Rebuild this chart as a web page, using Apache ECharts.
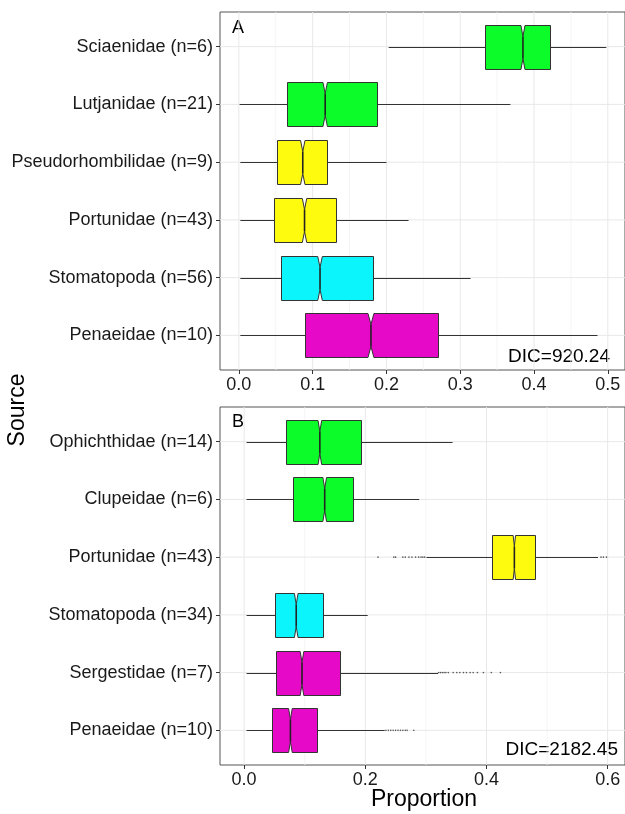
<!DOCTYPE html>
<html>
<head>
<meta charset="utf-8">
<script src="https://cdn.jsdelivr.net/npm/echarts@6/dist/echarts.min.js"></script>
<style>html,body{margin:0;padding:0;background:#fff;}#chart{width:625px;height:814px;}</style>
</head>
<body>
<div id="chart"></div>
<script>
// ---------- Panel A data (top to bottom) ----------
const catsA = ['Sciaenidae (n=6)','Lutjanidae (n=21)','Pseudorhombilidae (n=9)','Portunidae (n=43)','Stomatopoda (n=56)','Penaeidae (n=10)'];
const lowA   = [0.203, 0.001, 0.002, 0.002, 0.002, 0.002];
const q1A    = [0.333, 0.065, 0.052, 0.048, 0.0565, 0.090];
const medA   = [0.385, 0.117, 0.0866, 0.089, 0.110, 0.179];
const q3A    = [0.422, 0.187, 0.119, 0.132, 0.182, 0.270];
const highA  = [0.498, 0.368, 0.200, 0.230, 0.314, 0.486];
const notchA = [0.0027, 0.003, 0.003, 0.003, 0.0031, 0.004];
const colorA = ['green','green','yellow','yellow','cyan','magenta'];
const majorTicksA = [0, 0.1, 0.2, 0.3, 0.4, 0.5];
const minorTicksA = [0.05, 0.15, 0.25, 0.35, 0.45];

// ---------- Panel B data (top to bottom) ----------
const catsB = ['Ophichthidae (n=14)','Clupeidae (n=6)','Portunidae (n=43)','Stomatopoda (n=34)','Sergestidae (n=7)','Penaeidae (n=10)'];
const lowB   = [0.004, 0.004, 0.301, 0.004, 0.004, 0.004];
const q1B    = [0.069, 0.080, 0.409, 0.051, 0.052, 0.046];
const medB   = [0.125, 0.133, 0.446, 0.086, 0.0955, 0.0764];
const q3B    = [0.193, 0.179, 0.480, 0.130, 0.159, 0.120];
const highB  = [0.344, 0.289, 0.584, 0.204, 0.320, 0.232];
const notchB = [0.003, 0.003, 0.002, 0.003, 0.003, 0.003];
const colorB = ['green','green','yellow','cyan','magenta','magenta'];
const outPortunidaeB = [0.221, 0.247, 0.250, 0.262, 0.266, 0.272, 0.277, 0.283, 0.288, 0.292, 0.295, 0.298, 0.589, 0.593, 0.598];
const outSergestidaeB = [0.321, 0.324, 0.327, 0.330, 0.333, 0.337, 0.345, 0.351, 0.356, 0.362, 0.367, 0.373, 0.378, 0.385, 0.395, 0.408, 0.423];
const outPenaeidaeB = [0.234, 0.238, 0.242, 0.246, 0.250, 0.254, 0.258, 0.262, 0.266, 0.269, 0.280];
const majorTicksB = [0, 0.2, 0.4, 0.6];
const minorTicksB = [0.1, 0.3, 0.5];

const rowTicks = [1, 2, 3, 4, 5, 6];
const dicA = 'DIC=920.24';
const dicB = 'DIC=2182.45';

// ---------- styling ----------
const palette = { green: '#0cfc2a', yellow: '#fffb0f', cyan: '#0af5fc', magenta: '#e60ac8' };
const FONT = '"Liberation Sans", Arial, sans-serif';
const EDGE = '#333333';
const BOXW = 0.75;

// data row: [low, row, q1, median, q3, high, notch half-width]
function boxData(low, q1, med, q3, high, notch) {
  return low.map((v, i) => [v, i + 1, q1[i], med[i], q3[i], high[i], notch[i]]);
}
const snap = v => Math.round(v) + 0.5;

function makeBoxRenderer(colors) {
  return function (params, api) {
    const row = api.value(1);
    const lo = api.coord([api.value(0), row]);
    const x1 = snap(api.coord([api.value(2), row])[0]);
    const xm = api.coord([api.value(3), row])[0];
    const x3 = snap(api.coord([api.value(4), row])[0]);
    const xh = api.coord([api.value(5), row])[0];
    const nh = api.value(6);
    const xnl = api.coord([api.value(3) - nh, row])[0];
    const xnu = api.coord([api.value(3) + nh, row])[0];
    const y = snap(lo[1]);
    const h = Math.round(Math.abs(api.size([0, 1])[1]) * BOXW / 2);
    const fill = palette[colors[params.dataIndex]];
    return {
      type: 'group',
      children: [
        { type: 'polyline', shape: { points: [[lo[0], y], [xh, y]] }, style: { stroke: EDGE, lineWidth: 1, fill: null }, z2: 1 },
        { type: 'polygon', shape: { points: [
            [x1, y - h], [xnl, y - h], [xm, y - h / 2], [xnu, y - h], [x3, y - h],
            [x3, y + h], [xnu, y + h], [xm, y + h / 2], [xnl, y + h], [x1, y + h]
          ] }, style: { fill: fill, stroke: EDGE, lineWidth: 1 }, z2: 2 },
        { type: 'polyline', shape: { points: [[xm, y - h / 2], [xm, y + h / 2]] }, style: { stroke: '#222', lineWidth: 1.6, fill: null }, z2: 3 }
      ]
    };
  };
}

function vLineRenderer(color, width) {
  return function (params, api) {
    const x = api.coord([api.value(0), 1])[0];
    const cs = params.coordSys;
    return { type: 'line', silent: true, shape: { x1: x, y1: cs.y, x2: x, y2: cs.y + cs.height }, style: { stroke: color, lineWidth: width } };
  };
}
function hLineRenderer(color, width) {
  return function (params, api) {
    const y = api.coord([0, api.value(1)])[1];
    const cs = params.coordSys;
    return { type: 'line', silent: true, shape: { x1: cs.x, y1: y, x2: cs.x + cs.width, y2: y }, style: { stroke: color, lineWidth: width } };
  };
}

function xAxisCfg(gridIndex, min, max, ticks) {
  return {
    type: 'value', gridIndex: gridIndex, min: min, max: max,
    axisLine: { show: false, onZero: false },
    splitLine: { show: false },
    axisTick: { show: true, customValues: ticks, length: 4, lineStyle: { color: '#333', width: 1 } },
    axisLabel: { customValues: ticks, margin: 6, fontSize: 18, fontFamily: FONT, color: '#1a1a1a',
      formatter: v => Number(v).toFixed(1) }
  };
}
function yAxisCfg(gridIndex, cats) {
  return {
    type: 'value', gridIndex: gridIndex, min: 0.4, max: 6.6, inverse: true,
    axisLine: { show: false, onZero: false },
    splitLine: { show: false },
    axisTick: { show: true, customValues: rowTicks, length: 4, lineStyle: { color: '#333', width: 1 } },
    axisLabel: { customValues: rowTicks, margin: 7, fontSize: 18, fontFamily: FONT, color: '#1a1a1a',
      formatter: v => cats[Math.round(v) - 1] }
  };
}

function outlierData(vals, row) { return vals.map(v => [v, row]); }

const chart = echarts.init(document.getElementById('chart'), null, { renderer: 'canvas' });
chart.setOption({
  backgroundColor: '#ffffff',
  animation: false,
  grid: [
    { left: 220, top: 12, right: -3, height: 358, show: true, borderColor: '#555', borderWidth: 1, backgroundColor: 'transparent' },
    { left: 220, top: 407, right: -3, height: 358, show: true, borderColor: '#555', borderWidth: 1, backgroundColor: 'transparent' }
  ],
  xAxis: [
    xAxisCfg(0, -0.02556, 0.5233, majorTicksA),
    xAxisCfg(1, -0.0398, 0.6286, majorTicksB)
  ],
  yAxis: [ yAxisCfg(0, catsA), yAxisCfg(1, catsB) ],
  series: [
    // panel A grid lines
    { type: 'custom', xAxisIndex: 0, yAxisIndex: 0, z: 1, silent: true, data: minorTicksA.map(v => [v, 1]), renderItem: vLineRenderer('#f3f3f3', 0.8) },
    { type: 'custom', xAxisIndex: 0, yAxisIndex: 0, z: 1, silent: true, data: majorTicksA.map(v => [v, 1]), renderItem: vLineRenderer('#e8e8e8', 1) },
    { type: 'custom', xAxisIndex: 0, yAxisIndex: 0, z: 1, silent: true, data: rowTicks.map(v => [0, v]), renderItem: hLineRenderer('#e8e8e8', 1) },
    // panel B grid lines
    { type: 'custom', xAxisIndex: 1, yAxisIndex: 1, z: 1, silent: true, data: minorTicksB.map(v => [v, 1]), renderItem: vLineRenderer('#f3f3f3', 0.8) },
    { type: 'custom', xAxisIndex: 1, yAxisIndex: 1, z: 1, silent: true, data: majorTicksB.map(v => [v, 1]), renderItem: vLineRenderer('#e8e8e8', 1) },
    { type: 'custom', xAxisIndex: 1, yAxisIndex: 1, z: 1, silent: true, data: rowTicks.map(v => [0, v]), renderItem: hLineRenderer('#e8e8e8', 1) },
    // boxes
    { type: 'custom', xAxisIndex: 0, yAxisIndex: 0, z: 3, encode: { x: [0, 2, 3, 4, 5], y: 1 },
      data: boxData(lowA, q1A, medA, q3A, highA, notchA), renderItem: makeBoxRenderer(colorA) },
    { type: 'custom', xAxisIndex: 1, yAxisIndex: 1, z: 3, encode: { x: [0, 2, 3, 4, 5], y: 1 },
      data: boxData(lowB, q1B, medB, q3B, highB, notchB), renderItem: makeBoxRenderer(colorB) },
    // outliers
    { type: 'scatter', xAxisIndex: 1, yAxisIndex: 1, z: 4, symbol: 'circle', symbolSize: 1.6,
      itemStyle: { color: '#333' },
      data: outlierData(outPortunidaeB, 3).concat(outlierData(outSergestidaeB, 5), outlierData(outPenaeidaeB, 6)) }
  ],
  graphic: [
    { type: 'text', x: 18, y: 410, rotation: Math.PI / 2, style: { text: 'Source', font: '23px ' + FONT, fill: '#000', align: 'center', verticalAlign: 'middle' } },
    { type: 'text', x: 424, y: 800, style: { text: 'Proportion', font: '23px ' + FONT, fill: '#000', align: 'center', verticalAlign: 'middle' } },
    { type: 'text', x: 238, y: 28, style: { text: 'A', font: '18px ' + FONT, fill: '#000', align: 'center', verticalAlign: 'middle' } },
    { type: 'text', x: 238, y: 422, style: { text: 'B', font: '18px ' + FONT, fill: '#000', align: 'center', verticalAlign: 'middle' } },
    { type: 'text', x: 610, y: 357, style: { text: dicA, font: '19px ' + FONT, fill: '#000', align: 'right', verticalAlign: 'middle' } },
    { type: 'text', x: 618, y: 750, style: { text: dicB, font: '19px ' + FONT, fill: '#000', align: 'right', verticalAlign: 'middle' } }
  ]
});
</script>
</body>
</html>
